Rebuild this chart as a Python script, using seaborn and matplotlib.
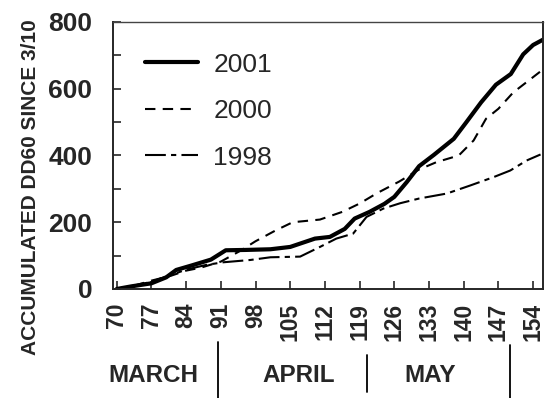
import numpy as np
import pandas as pd
import matplotlib
matplotlib.use('Agg')
import matplotlib.pyplot as plt
import matplotlib.transforms as mtransforms
import seaborn as sns

# Accumulated DD60 since 3/10 (day of year -> value)
days_2001 = [70, 73, 77, 80, 82, 85, 89, 92, 96, 101, 105, 110, 113, 116, 118,
             121, 124, 126, 128.5, 131, 134, 138, 140.5, 143.5, 146.5, 149.5,
             152, 154, 156]
dd_2001 = [0, 8, 17, 35, 57, 70, 88, 116, 117, 119, 126, 151, 156, 180, 211,
           231, 255, 276, 320, 368, 402, 450, 499, 559, 612, 644, 703, 731, 747]

days_2000 = [70, 74, 77, 81, 84, 87, 91, 95, 98, 102, 105.5, 111, 115.5, 119,
             122.5, 127, 131, 134.5, 139, 142, 144.5, 147, 150, 153.5, 155.5]
dd_2000 = [0, 12, 25, 40, 55, 64, 82, 115, 143, 175, 200, 208, 231, 256,
           287, 322, 358, 380, 400, 445, 510, 540, 589, 629, 652]

days_1998 = [70, 74, 77, 81, 84, 88, 91.5, 97, 101, 107, 111, 114.3, 117.7,
             120.4, 123.8, 127.2, 131, 136.6, 141.3, 146, 149.4, 152.7, 155.5]
dd_1998 = [0, 10, 22, 42, 58, 72, 80, 87, 95, 97, 126, 151, 166,
           216, 241, 257, 271, 286, 310, 335, 355, 385, 403]

x_ticks = list(range(70, 155, 7))
y_ticks = [0, 200, 400, 600, 800]
months = ['MARCH', 'APRIL', 'MAY']
month_centers = [77.3, 106.8, 133.2]
month_bounds = [90.4, 120.5, 149.3]

sns.set_style('ticks')
plt.rcParams['font.family'] = ['Liberation Sans', 'DejaVu Sans']

fig = plt.figure(figsize=(5.48, 3.98), dpi=100)
ax = fig.add_axes([0.2062, 0.2739, 0.7847, 0.6709])

series = [
    ('2001', days_2001, dd_2001, dict(linewidth=3.0, linestyle='-')),
    ('2000', days_2000, dd_2000, dict(linewidth=1.5, linestyle=(0, (5, 3.5)))),
    ('1998', days_1998, dd_1998, dict(linewidth=1.5, linestyle=(0, (10, 2.5, 2.5, 2.5)))),
]
for name, xs, ys, st in series:
    df = pd.DataFrame({'day': xs, 'dd': ys})
    sns.lineplot(data=df, x='day', y='dd', ax=ax, color='black', label=name,
                 estimator=None, sort=False, **st)

ax.set_xlim(69.25, 156.0)
ax.set_ylim(0, 800)
ax.set_xticks(x_ticks)
ax.set_xticklabels([str(t) for t in x_ticks], rotation=90, fontsize=16.5, fontweight='bold')
ax.set_yticks(y_ticks)
ax.set_yticklabels([str(t) for t in y_ticks], fontsize=19, fontweight='bold')
ax.set_yticks([100, 300, 500, 700], minor=True)
ax.tick_params(axis='x', direction='in', length=6, width=1.2, pad=10)
ax.tick_params(axis='y', which='both', direction='in', length=6, width=1.2, pad=15)
ax.set_xlabel('')
ax.set_ylabel('')
for s in ['left', 'bottom', 'right']:
    ax.spines[s].set_linewidth(1.4)
ax.spines['top'].set_linewidth(1.0)
ax.spines['top'].set_color('#444444')

leg = ax.legend(loc='upper left', bbox_to_anchor=(0.074, 0.885), frameon=False,
                fontsize=19, handlelength=2.0, handletextpad=0.6,
                labelspacing=0.85, borderpad=0, borderaxespad=0)

fig.text(31 / 548, 1 - 187 / 398, 'ACCUMULATED DD60 SINCE 3/10', rotation=90,
         ha='center', va='center', fontsize=15, fontweight='bold')

trans = mtransforms.blended_transform_factory(ax.transData, fig.transFigure)
for name, xc in zip(months, month_centers):
    ax.text(xc, 1 - 382 / 398, name, transform=trans, ha='center', va='baseline',
            fontsize=17.5, fontweight='bold')
for xb, (y0, y1) in zip(month_bounds, [(342, 398), (355, 392), (345, 398)]):
    ax.plot([xb, xb], [1 - y0 / 398, 1 - y1 / 398], transform=trans, color='black',
            linewidth=1.3, clip_on=False)

fig.savefig('out.png', dpi=100)
